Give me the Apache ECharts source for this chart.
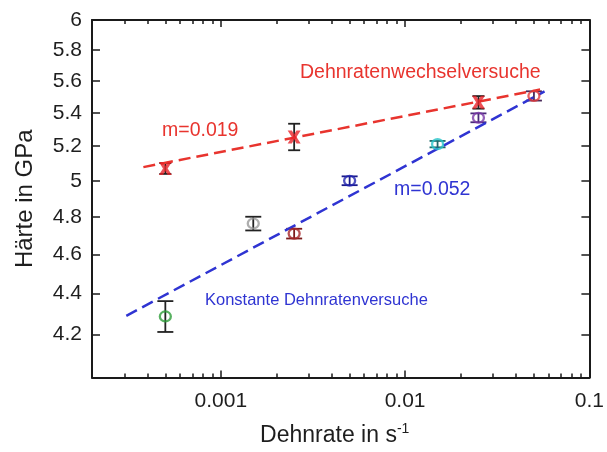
<!DOCTYPE html>
<html>
<head>
<meta charset="utf-8">
<script src="https://cdn.jsdelivr.net/npm/echarts@6/dist/echarts.min.js"></script>
<style>
  html, body { margin: 0; padding: 0; background: #fff; }
  #chart { width: 607px; height: 452px; }
</style>
</head>
<body>
<div id="chart"></div>
<script>
// Strain-rate jump tests (Dehnratenwechselversuche)
const rateWechsel = [0.0005, 0.0025, 0.025];
const hardWechsel = [5.07, 5.255, 5.465];
const errWechsel = [0.031, 0.079, 0.039];

// Constant strain-rate tests (Konstante Dehnratenversuche)
const rateKonst = [0.0005, 0.0015, 0.0025, 0.005, 0.015, 0.025, 0.05];
const hardKonst = [4.287, 4.763, 4.709, 5.0, 5.212, 5.37, 5.505];
const errKonst = [0.075, 0.037, 0.026, 0.025, 0.019, 0.027, 0.029];
const colorKonst = ['#2e9e3a', '#9a9a9a', '#a8282a', '#2326b0', '#27c3c8', '#7a3aa8', '#e23a3a'];
const errColorKonst = ['#222222', '#222222', '#7a1a1a', '#1a1a8a', '#1e6a6a', '#4a2a7a', '#4a2a5a'];

// Power-law fit lines (log-log), endpoints
const fitWechselX = [0.00038, 0.054];
const fitWechselY = [5.078, 5.545];
const fitKonstX = [0.000307, 0.0571];
const fitKonstY = [4.29, 5.533];

// Axis ticks and labels
const xMajor = [0.001, 0.01, 0.1];
const xMajorLabels = ['0.001', '0.01', '0.1'];
const xMinor = [0.0003, 0.0004, 0.0005, 0.0006, 0.0007, 0.0008, 0.0009,
                0.002, 0.003, 0.004, 0.005, 0.006, 0.007, 0.008, 0.009,
                0.02, 0.03, 0.04, 0.05, 0.06, 0.07, 0.08, 0.09];
const yTicks = [4.2, 4.4, 4.6, 4.8, 5.0, 5.2, 5.4, 5.6, 5.8, 6.0];
const yTickLabels = ['4.2', '4.4', '4.6', '4.8', '5', '5.2', '5.4', '5.6', '5.8', '6'];

const FONT = 'Liberation Sans, Arial, sans-serif';
const AXIS_COLOR = '#1a1a1a';
const TEXT_COLOR = '#1e1e1e';

const zip = (xs, ys) => xs.map((x, i) => [x, ys[i]]);

function xAxisDef(position, ticks, len, showLine, showLabels) {
  return {
    type: 'log', logBase: 10, min: 0.0002, max: 0.1, position: position,
    axisLine: { show: showLine, onZero: false, lineStyle: { color: AXIS_COLOR, width: 2 } },
    axisTick: { show: true, inside: true, length: len, customValues: ticks,
                lineStyle: { color: AXIS_COLOR, width: 1.5 } },
    axisLabel: showLabels ? {
      customValues: xMajor, margin: 13, color: TEXT_COLOR, fontSize: 21, fontFamily: FONT,
      formatter: v => xMajorLabels[xMajor.findIndex(t => Math.abs(t - v) / t < 1e-6)]
    } : { show: false },
    splitLine: { show: false }, minorTick: { show: false }
  };
}

function yAxisDef(position, showLabels) {
  return {
    type: 'log', logBase: 10, min: 4, max: 6, position: position,
    axisLine: { show: true, onZero: false, lineStyle: { color: AXIS_COLOR, width: 2 } },
    axisTick: { show: true, inside: true, length: 8, customValues: yTicks,
                lineStyle: { color: AXIS_COLOR, width: 1.5 } },
    axisLabel: showLabels ? {
      customValues: yTicks, margin: 10, color: TEXT_COLOR, fontSize: 21, fontFamily: FONT,
      formatter: v => yTickLabels[yTicks.findIndex(t => Math.abs(t - v) < 1e-6)]
    } : { show: false },
    splitLine: { show: false }
  };
}

// Vertical error bar with horizontal caps
function errorBar(capW) {
  return function (params, api) {
    const x = api.value(0), y = api.value(1), e = api.value(2);
    const color = api.value(3) ? api.value(3) : '#222';
    const top = api.coord([x, y + e]);
    const bot = api.coord([x, y - e]);
    const ls = { stroke: color, lineWidth: 1.8 };
    return {
      type: 'group',
      children: [
        { type: 'line', shape: { x1: top[0], y1: top[1], x2: bot[0], y2: bot[1] }, style: ls },
        { type: 'line', shape: { x1: top[0] - capW / 2, y1: top[1], x2: top[0] + capW / 2, y2: top[1] }, style: ls },
        { type: 'line', shape: { x1: bot[0] - capW / 2, y1: bot[1], x2: bot[0] + capW / 2, y2: bot[1] }, style: ls }
      ]
    };
  };
}

const starPath = 'path://M0,0 L3.2,0 L5,3 L6.8,0 L10,0 L6.8,5 L10,10 L6.8,10 L5,7 L3.2,10 L0,10 L3.2,5 Z';

const chart = echarts.init(document.getElementById('chart'), null, { renderer: 'canvas' });

chart.setOption({
  backgroundColor: '#ffffff',
  animation: false,
  grid: { left: 92, right: 16, top: 20, bottom: 72, containLabel: false },
  xAxis: [
    Object.assign(xAxisDef('bottom', xMajor, 7, true, true), {
      name: 'Dehnrate in s{sup|-1}', nameLocation: 'middle', nameGap: 45,
      nameTextStyle: { fontSize: 23, fontFamily: FONT, color: TEXT_COLOR, padding: [0, 12, 0, 0],
        rich: { sup: { fontSize: 14, fontFamily: FONT, color: TEXT_COLOR, verticalAlign: 'top', padding: [0, 0, 12, 0] } } }
    }),
    xAxisDef('bottom', xMinor, 4, false, false),
    xAxisDef('top', xMajor, 7, true, false),
    xAxisDef('top', xMinor, 4, false, false)
  ],
  yAxis: [
    Object.assign(yAxisDef('left', true), {
      name: 'Härte in GPa', nameLocation: 'middle', nameGap: 55, nameRotate: 90,
      nameTextStyle: { fontSize: 24, fontFamily: FONT, color: TEXT_COLOR }
    }),
    yAxisDef('right', false)
  ],
  series: [
    {
      name: 'Fit Wechsel', type: 'line', xAxisIndex: 0, yAxisIndex: 0,
      data: zip(fitWechselX, fitWechselY), showSymbol: false, silent: true,
      lineStyle: { color: '#e8342e', width: 2.5, type: [12, 6] }
    },
    {
      name: 'Fit Konstant', type: 'line', xAxisIndex: 0, yAxisIndex: 0,
      data: zip(fitKonstX, fitKonstY), showSymbol: false, silent: true,
      lineStyle: { color: '#2f34d2', width: 2.5, type: [12, 6] }
    },
    {
      name: 'Fehler Wechsel', type: 'custom', xAxisIndex: 0, yAxisIndex: 0,
      renderItem: errorBar(12),
      data: rateWechsel.map((x, i) => [x, hardWechsel[i], errWechsel[i], '#222222']),
      z: 3
    },
    {
      name: 'Fehler Konstant', type: 'custom', xAxisIndex: 0, yAxisIndex: 0,
      renderItem: errorBar(16),
      data: rateKonst.map((x, i) => [x, hardKonst[i], errKonst[i], errColorKonst[i]]),
      z: 3
    },
    {
      name: 'Dehnratenwechselversuche', type: 'scatter', xAxisIndex: 0, yAxisIndex: 0,
      symbol: starPath, symbolSize: [13, 13],
      itemStyle: { color: '#e8242a' },
      data: zip(rateWechsel, hardWechsel), z: 5
    },
    {
      name: 'Konstante Dehnratenversuche', type: 'scatter', xAxisIndex: 0, yAxisIndex: 0,
      symbol: 'circle', symbolSize: [11, 10],
      data: rateKonst.map((x, i) => ({
        value: [x, hardKonst[i]],
        itemStyle: { color: 'rgba(0,0,0,0)', borderColor: colorKonst[i], borderWidth: 2.2 }
      })),
      z: 5
    }
  ],
  graphic: [
    { type: 'text', left: 300, top: 63,
      style: { text: 'Dehnratenwechselversuche', fill: '#e8342e', font: '19.5px ' + FONT } },
    { type: 'text', left: 162, top: 121,
      style: { text: 'm=0.019', fill: '#e8342e', font: '19.5px ' + FONT } },
    { type: 'text', left: 394, top: 180,
      style: { text: 'm=0.052', fill: '#2f34d2', font: '19.5px ' + FONT } },
    { type: 'text', left: 205, top: 292,
      style: { text: 'Konstante Dehnratenversuche', fill: '#2f34d2', font: '16.5px ' + FONT } }
  ]
});
</script>
</body>
</html>
